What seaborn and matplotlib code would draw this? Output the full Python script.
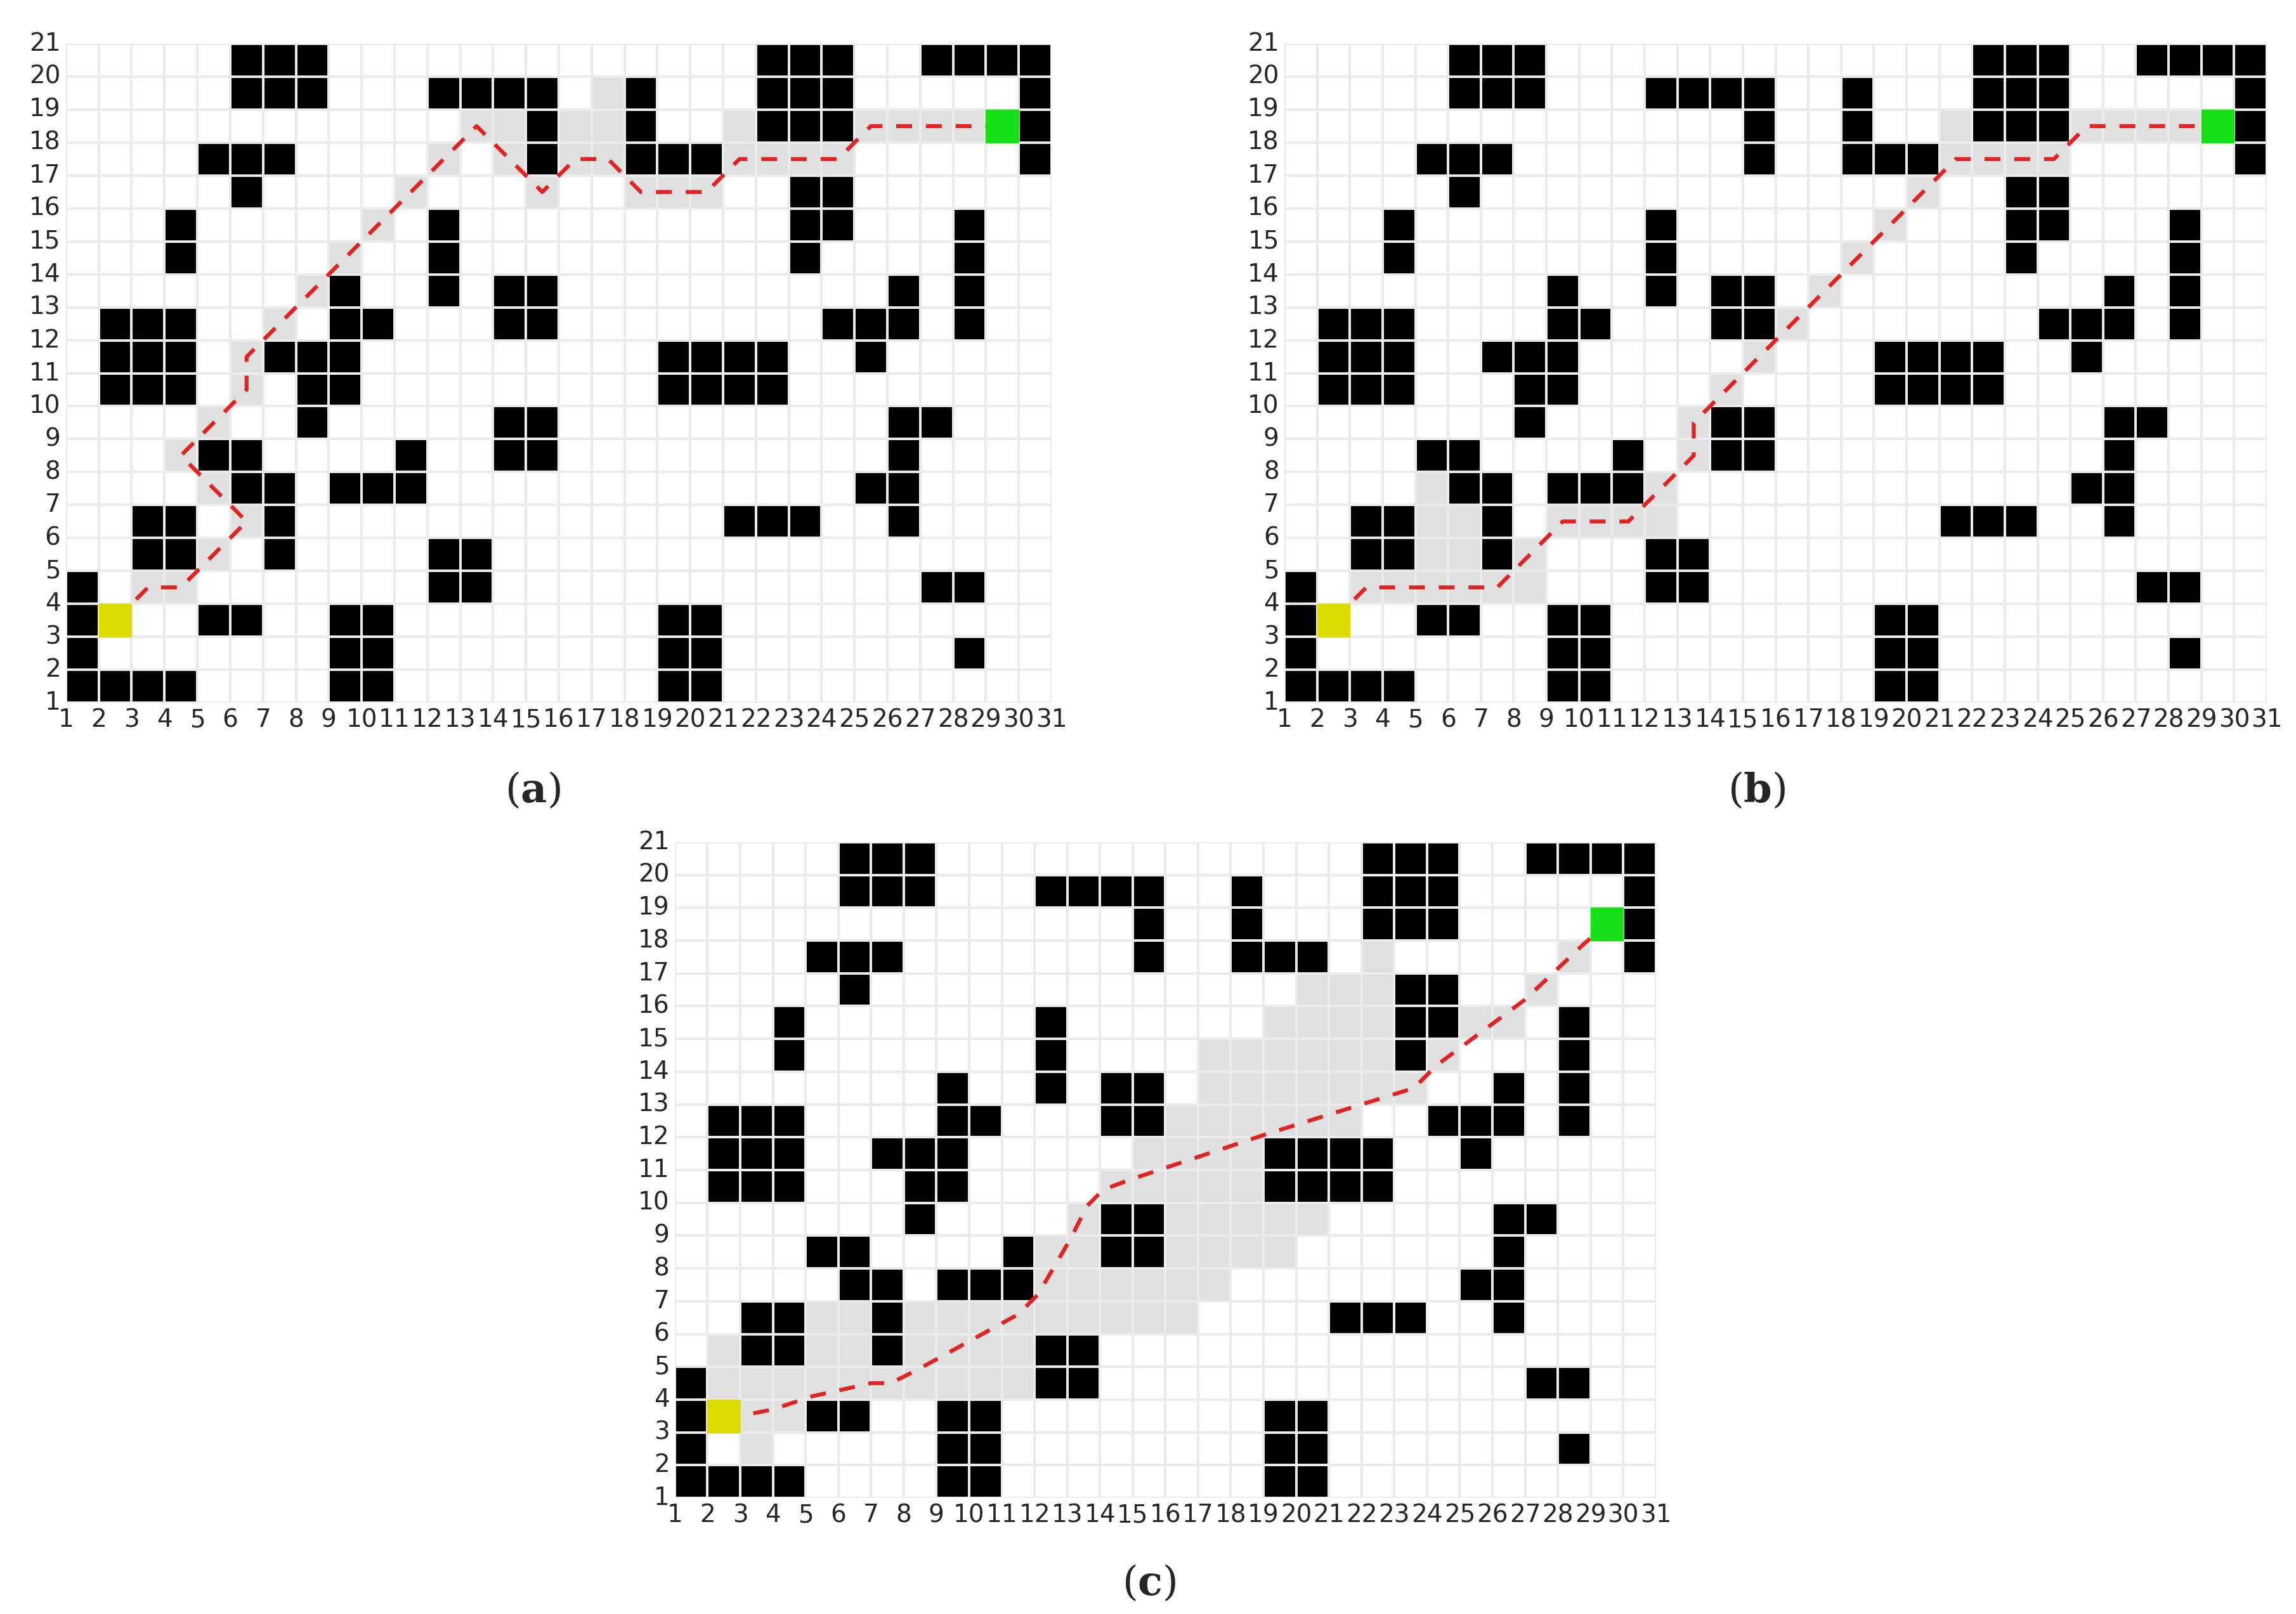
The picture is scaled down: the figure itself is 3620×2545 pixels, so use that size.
import numpy as np
import matplotlib
matplotlib.use("Agg")
import matplotlib.pyplot as plt
from matplotlib.colors import ListedColormap
from matplotlib.patches import Rectangle
import seaborn as sns

N_COLS, N_ROWS = 30, 20

# obstacle columns for each grid row (row 1 = bottom)
obstacles = {
    20: [6, 7, 8, 22, 23, 24, 27, 28, 29, 30],
    19: [6, 7, 8, 12, 13, 14, 15, 18, 22, 23, 24, 30],
    18: [15, 18, 22, 23, 24, 30],
    17: [5, 6, 7, 15, 18, 19, 20, 30],
    16: [6, 23, 24],
    15: [4, 12, 23, 24, 28],
    14: [4, 12, 23, 28],
    13: [9, 12, 14, 15, 26, 28],
    12: [2, 3, 4, 9, 10, 14, 15, 24, 25, 26, 28],
    11: [2, 3, 4, 7, 8, 9, 19, 20, 21, 22, 25],
    10: [2, 3, 4, 8, 9, 19, 20, 21, 22],
    9: [8, 14, 15, 26, 27],
    8: [5, 6, 11, 14, 15, 26],
    7: [6, 7, 9, 10, 11, 25, 26],
    6: [3, 4, 7, 21, 22, 23, 26],
    5: [3, 4, 7, 12, 13],
    4: [1, 12, 13, 27, 28],
    3: [1, 5, 6, 9, 10, 19, 20],
    2: [1, 9, 10, 19, 20, 28],
    1: [1, 2, 3, 4, 9, 10, 19, 20],
}

start_cell = (2, 3)
goal_cell = (29, 18)

# explored cells (columns per row) for each method
explored_a = {
    4: [3, 4], 5: [5], 6: [6], 7: [5], 8: [4], 9: [5], 10: [6], 11: [6],
    12: [7], 13: [8], 14: [9], 15: [10], 16: [11, 15, 18, 19, 20],
    17: [12, 14, 16, 17, 21, 22, 23, 24], 18: [13, 14, 16, 17, 21, 25, 26, 27, 28],
    19: [17],
}
explored_b = {
    4: [3, 4, 5, 6, 7, 8], 5: [5, 6, 8], 6: [5, 6, 9, 10, 11, 12], 7: [5, 12],
    8: [13], 9: [13], 10: [14], 11: [15], 12: [16], 13: [17], 14: [18],
    15: [19], 16: [20], 17: [21, 22, 23, 24], 18: [21, 25, 26, 27, 28],
}
explored_c = {
    2: [3], 3: [3, 4], 4: [2, 3, 4, 5, 6, 7, 8, 9, 10, 11],
    5: [2, 5, 6, 8, 9, 10, 11],
    6: [5, 6, 8, 9, 10, 11, 12, 13, 14, 15, 16],
    7: [12, 13, 14, 15, 16, 17], 8: [12, 13, 16, 17, 18, 19],
    9: [13, 16, 17, 18, 19, 20], 10: [14, 15, 16, 17, 18],
    11: [15, 16, 17, 18], 12: [16, 17, 18, 19, 20, 21],
    13: [17, 18, 19, 20, 21, 22, 23], 14: [17, 18, 19, 20, 21, 22, 24],
    15: [19, 20, 21, 22, 25, 26], 16: [20, 21, 22, 27], 17: [22, 28],
}

# planned paths in grid-label coordinates
path_a_x = [2.5, 3.5, 4.5, 6.5, 4.5, 6.5, 6.5, 13.5, 15.5, 16.5, 17.5, 18.5, 20.5, 21.5, 24.5, 25.5, 29.5]
path_a_y = [3.5, 4.5, 4.5, 6.5, 8.5, 10.5, 11.5, 18.5, 16.5, 17.5, 17.5, 16.5, 16.5, 17.5, 17.5, 18.5, 18.5]
path_b_x = [2.5, 3.5, 7.5, 9.5, 11.5, 13.5, 13.5, 21.5, 24.5, 25.5, 29.5]
path_b_y = [3.5, 4.5, 4.5, 6.5, 6.5, 8.5, 9.5, 17.5, 17.5, 18.5, 18.5]
path_c_x = [2.5, 3.0, 4.0, 5.2, 7.0, 7.6, 8.4, 11.5, 12.1, 13.1, 13.6, 14.1, 14.9, 19.1, 23.6, 24.3, 27.0, 28.8, 29.5]
path_c_y = [3.5, 3.5, 3.7, 4.1, 4.5, 4.5, 4.9, 6.6, 7.2, 8.9, 9.9, 10.4, 10.7, 12.1, 13.5, 14.2, 16.2, 17.9, 18.5]

panels = [
    ("a", explored_a, path_a_x, path_a_y, [0.0287, 0.5646, 0.4293, 0.4083], (0.232, 0.51)),
    ("b", explored_b, path_b_x, path_b_y, [0.5594, 0.5646, 0.4279, 0.4083], (0.765, 0.51)),
    ("c", explored_c, path_c_x, path_c_y, [0.2939, 0.0719, 0.4273, 0.4063], (0.5005, 0.019)),
]

sns.set_theme(style="white")
plt.rcParams["font.family"] = ["DejaVu Sans"]
plt.rcParams["mathtext.fontset"] = "dejavuserif"

cmap = ListedColormap(["#ffffff", "#e0e0e0", "#000000"])

fig = plt.figure(figsize=(36.2, 25.45), dpi=100)

for label, explored, px, py, rect, lab_pos in panels:
    grid = np.zeros((N_ROWS, N_COLS))
    for r, cols in explored.items():
        for c in cols:
            grid[r - 1, c - 1] = 1
    for r, cols in obstacles.items():
        for c in cols:
            grid[r - 1, c - 1] = 2

    ax = fig.add_axes(rect)
    sns.heatmap(grid, cmap=cmap, vmin=0, vmax=2, cbar=False,
                linewidths=1.5, linecolor="#ebebeb", ax=ax)
    ax.invert_yaxis()

    # start / goal markers
    ax.add_patch(Rectangle((start_cell[0] - 1, start_cell[1] - 1), 1, 1,
                           color="#dcdc00", zorder=4))
    ax.add_patch(Rectangle((goal_cell[0] - 1, goal_cell[1] - 1), 1, 1,
                           color="#18e018", zorder=4))

    ax.plot(np.array(px) - 1, np.array(py) - 1, color="#e02424", lw=4.5,
            ls=(0, (4, 3.5)), zorder=3)

    ax.set_xticks(np.arange(N_COLS + 1))
    ax.set_xticklabels([str(i) for i in range(1, N_COLS + 2)], rotation=0, fontsize=28)
    ax.set_yticks(np.arange(N_ROWS + 1))
    ax.set_yticklabels([str(i) for i in range(1, N_ROWS + 2)], rotation=0, fontsize=28)
    ax.tick_params(length=0, pad=6)
    ax.set_xlim(0, N_COLS)
    ax.set_ylim(0, N_ROWS)
    for s in ax.spines.values():
        s.set_visible(False)

    fig.text(lab_pos[0], lab_pos[1], r"($\mathbf{" + label + r"}$)",
             fontsize=46, family="DejaVu Serif", ha="center", va="center")

fig.savefig("out.png", dpi=100)
